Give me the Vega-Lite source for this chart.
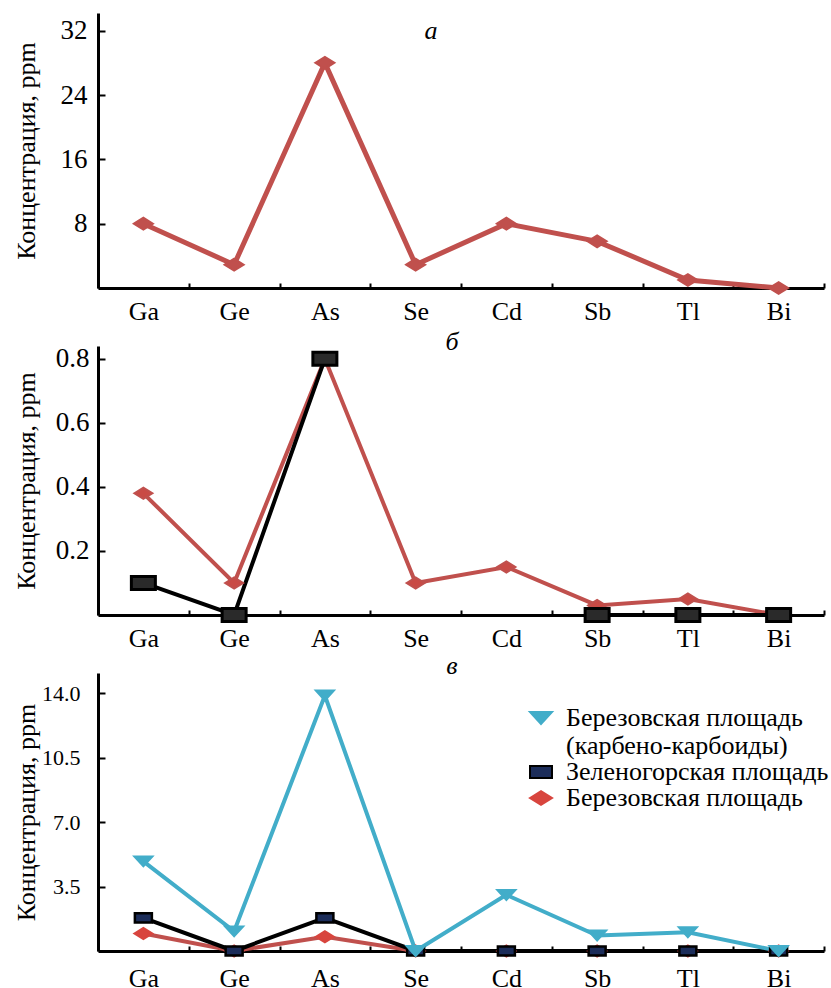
{
  "$schema": "https://vega.github.io/schema/vega-lite/v6.json",
  "padding": {"left": 12, "top": 13, "right": 2, "bottom": 0},
  "background": "white",
  "config": {
    "view": {"stroke": null},
    "font": "Liberation Serif",
    "title": {"font": "Liberation Serif", "fontSize": 26, "fontStyle": "italic", "fontWeight": "normal", "anchor": "middle", "baseline": "alphabetic", "offset": 0, "frame": "group", "color": "black"},
    "axis": {"labelFont": "Liberation Serif", "titleFont": "Liberation Serif", "labelColor": "black", "titleColor": "black", "domainColor": "black", "tickColor": "black", "grid": false, "domainWidth": 3, "tickWidth": 2},
    "axisX": {"labelAngle": 0, "labelFontSize": 26, "labelPadding": 15.5, "tickSize": -5, "tickBand": "extent", "labelBaseline": "top"},
    "axisY": {"labelFontSize": 27, "tickSize": -7, "labelPadding": 18, "titleFontSize": 26, "titleFontWeight": "normal", "titleX": -59, "titleBaseline": "bottom", "titleAngle": -90},
    "legend": {"labelFont": "Liberation Serif", "labelFontSize": 26, "labelColor": "black", "labelLimit": 0, "padding": 0, "rowPadding": 0, "symbolSize": 484, "symbolStrokeWidth": 2, "labelOffset": 12, "symbolOffset": 0}
  },
  "datasets": {
    "d": [
      {"p": "a", "s": "Березовская площадь", "el": "Ga", "v": 8},
      {"p": "a", "s": "Березовская площадь", "el": "Ge", "v": 2.9},
      {"p": "a", "s": "Березовская площадь", "el": "As", "v": 28},
      {"p": "a", "s": "Березовская площадь", "el": "Se", "v": 2.9},
      {"p": "a", "s": "Березовская площадь", "el": "Cd", "v": 8},
      {"p": "a", "s": "Березовская площадь", "el": "Sb", "v": 5.8},
      {"p": "a", "s": "Березовская площадь", "el": "Tl", "v": 1},
      {"p": "a", "s": "Березовская площадь", "el": "Bi", "v": 0},
      {"p": "b", "s": "Березовская площадь", "el": "Ga", "v": 0.38},
      {"p": "b", "s": "Березовская площадь", "el": "Ge", "v": 0.1},
      {"p": "b", "s": "Березовская площадь", "el": "As", "v": 0.8},
      {"p": "b", "s": "Березовская площадь", "el": "Se", "v": 0.1},
      {"p": "b", "s": "Березовская площадь", "el": "Cd", "v": 0.15},
      {"p": "b", "s": "Березовская площадь", "el": "Sb", "v": 0.03},
      {"p": "b", "s": "Березовская площадь", "el": "Tl", "v": 0.05},
      {"p": "b", "s": "Березовская площадь", "el": "Bi", "v": 0},
      {"p": "b", "s": "Зеленогорская площадь", "el": "Ga", "v": 0.1},
      {"p": "b", "s": "Зеленогорская площадь", "el": "Ge", "v": 0},
      {"p": "b", "s": "Зеленогорская площадь", "el": "As", "v": 0.8},
      {"p": "b", "s": "Зеленогорская площадь", "el": "Se", "v": null},
      {"p": "b", "s": "Зеленогорская площадь", "el": "Cd", "v": null},
      {"p": "b", "s": "Зеленогорская площадь", "el": "Sb", "v": 0},
      {"p": "b", "s": "Зеленогорская площадь", "el": "Tl", "v": 0},
      {"p": "b", "s": "Зеленогорская площадь", "el": "Bi", "v": 0},
      {"p": "c", "s": "Березовская площадь", "el": "Ga", "v": 0.95},
      {"p": "c", "s": "Березовская площадь", "el": "Ge", "v": 0},
      {"p": "c", "s": "Березовская площадь", "el": "As", "v": 0.77},
      {"p": "c", "s": "Березовская площадь", "el": "Se", "v": 0},
      {"p": "c", "s": "Березовская площадь", "el": "Cd", "v": 0},
      {"p": "c", "s": "Березовская площадь", "el": "Sb", "v": 0},
      {"p": "c", "s": "Березовская площадь", "el": "Tl", "v": 0},
      {"p": "c", "s": "Березовская площадь", "el": "Bi", "v": 0},
      {"p": "c", "s": "Зеленогорская площадь", "el": "Ga", "v": 1.8},
      {"p": "c", "s": "Зеленогорская площадь", "el": "Ge", "v": 0},
      {"p": "c", "s": "Зеленогорская площадь", "el": "As", "v": 1.8},
      {"p": "c", "s": "Зеленогорская площадь", "el": "Se", "v": 0},
      {"p": "c", "s": "Зеленогорская площадь", "el": "Cd", "v": 0},
      {"p": "c", "s": "Зеленогорская площадь", "el": "Sb", "v": 0},
      {"p": "c", "s": "Зеленогорская площадь", "el": "Tl", "v": 0},
      {"p": "c", "s": "Зеленогорская площадь", "el": "Bi", "v": 0},
      {"p": "c", "s": "Березовская площадь (карбено-карбоиды)", "el": "Ga", "v": 4.87},
      {"p": "c", "s": "Березовская площадь (карбено-карбоиды)", "el": "Ge", "v": 1.07},
      {"p": "c", "s": "Березовская площадь (карбено-карбоиды)", "el": "As", "v": 13.88},
      {"p": "c", "s": "Березовская площадь (карбено-карбоиды)", "el": "Se", "v": 0},
      {"p": "c", "s": "Березовская площадь (карбено-карбоиды)", "el": "Cd", "v": 3.05},
      {"p": "c", "s": "Березовская площадь (карбено-карбоиды)", "el": "Sb", "v": 0.84},
      {"p": "c", "s": "Березовская площадь (карбено-карбоиды)", "el": "Tl", "v": 1.02},
      {"p": "c", "s": "Березовская площадь (карбено-карбоиды)", "el": "Bi", "v": 0}
    ]
  },
  "spacing": 58,
  "bounds": "flush",
  "resolve": {"scale": {"y": "independent", "fill": "independent", "stroke": "independent", "shape": "independent"}, "legend": {"fill": "independent", "stroke": "independent", "shape": "independent"}},
  "vconcat": [
    {
      "width": 726,
      "height": 275,
      "title": {"text": "а", "dx": -30, "dy": 35},
      "data": {"name": "d"},
      "transform": [{"filter": "datum.p == 'a'"}],
      "encoding": {
        "x": {"field": "el", "type": "nominal", "sort": ["Ga", "Ge", "As", "Se", "Cd", "Sb", "Tl", "Bi"], "scale": {"type": "band", "padding": 0}, "axis": {"title": null}},
        "y": {"field": "v", "type": "quantitative", "scale": {"domain": [0, 34.2], "nice": false}, "axis": {"values": [8, 16, 24, 32], "labelPadding": 18, "title": "Концентрация, ppm"}}
      },
      "layer": [
        {"mark": {"type": "line", "color": "#c0504d", "strokeWidth": 5}},
        {"mark": {"type": "point", "shape": "M-1,0L0,-0.62L1,0L0,0.62Z", "filled": true, "fill": "#c0504d", "stroke": "#c0504d", "strokeWidth": 2, "size": 361, "opacity": 1}}
      ]
    },
    {
      "width": 726,
      "height": 269,
      "title": {"text": "б", "dx": -9, "dy": 14},
      "data": {"name": "d"},
      "transform": [{"filter": "datum.p == 'b'"}],
      "encoding": {
        "x": {"field": "el", "type": "nominal", "sort": ["Ga", "Ge", "As", "Se", "Cd", "Sb", "Tl", "Bi"], "scale": {"type": "band", "padding": 0}, "axis": {"title": null}},
        "y": {"field": "v", "type": "quantitative", "scale": {"domain": [0, 0.84], "nice": false}, "axis": {"values": [0.2, 0.4, 0.6, 0.8], "format": ".1f", "labelPadding": 16, "title": "Концентрация, ppm"}}
      },
      "layer": [
        {"transform": [{"filter": "datum.s == 'Березовская площадь'"}], "mark": {"type": "line", "color": "#c0504d", "strokeWidth": 4}},
        {"transform": [{"filter": "datum.s == 'Зеленогорская площадь'"}], "mark": {"type": "line", "color": "#000000", "strokeWidth": 4}},
        {"transform": [{"filter": "datum.s == 'Березовская площадь'"}], "mark": {"type": "point", "shape": "M-1,0L0,-0.62L1,0L0,0.62Z", "filled": true, "fill": "#c94a45", "stroke": "#c0504d", "strokeWidth": 2, "size": 324, "opacity": 1}},
        {"transform": [{"filter": "datum.s == 'Зеленогорская площадь'"}], "mark": {"type": "point", "shape": "M-1,-0.54H1V0.54H-1Z", "filled": true, "fill": "#2a2a2a", "stroke": "#000000", "strokeWidth": 3, "size": 576, "opacity": 1}}
      ]
    },
    {
      "width": 726,
      "height": 278,
      "title": {"text": "в", "dx": -9, "dy": 10},
      "data": {"name": "d"},
      "transform": [{"filter": "datum.p == 'c'"}],
      "encoding": {
        "x": {"field": "el", "type": "nominal", "sort": ["Ga", "Ge", "As", "Se", "Cd", "Sb", "Tl", "Bi"], "scale": {"type": "band", "padding": 0}, "axis": {"labelPadding": 19, "title": null}},
        "y": {"field": "v", "type": "quantitative", "scale": {"domain": [0, 15.1], "nice": false}, "axis": {"values": [3.5, 7, 10.5, 14], "format": ".1f", "labelPadding": 25, "labelFontSize": 22, "title": "Концентрация, ppm"}}
      },
      "layer": [
        {"transform": [{"filter": "datum.s == 'Березовская площадь'"}], "mark": {"type": "line", "color": "#c0504d", "strokeWidth": 4}},
        {"transform": [{"filter": "datum.s == 'Зеленогорская площадь'"}], "mark": {"type": "line", "color": "#000000", "strokeWidth": 4}},
        {"transform": [{"filter": "datum.s == 'Березовская площадь (карбено-карбоиды)'"}], "mark": {"type": "line", "color": "#42adc9", "strokeWidth": 4}},
        {
          "mark": {"type": "point", "filled": true, "size": 289, "strokeWidth": 2.5, "opacity": 1},
          "encoding": {
            "fill": {"field": "s", "type": "nominal", "scale": {"domain": ["Березовская площадь (карбено-карбоиды)", "Зеленогорская площадь", "Березовская площадь"], "range": ["#42adc9", "#1c2d5a", "#d8453e"]}, "legend": {"title": null, "orient": "none", "legendX": 430, "legendY": 32, "labelExpr": "indexof(datum.label, ' (') > 0 ? [substring(datum.label, 0, indexof(datum.label, ' (')), '\u00a0' + substring(datum.label, indexof(datum.label, ' (') + 1)] : datum.label"}},
            "stroke": {"field": "s", "type": "nominal", "scale": {"domain": ["Березовская площадь (карбено-карбоиды)", "Зеленогорская площадь", "Березовская площадь"], "range": ["#42adc9", "#000000", "#d8453e"]}, "legend": {"title": null, "orient": "none", "legendX": 430, "legendY": 32, "labelExpr": "indexof(datum.label, ' (') > 0 ? [substring(datum.label, 0, indexof(datum.label, ' (')), '\u00a0' + substring(datum.label, indexof(datum.label, ' (') + 1)] : datum.label"}},
            "shape": {"field": "s", "type": "nominal", "scale": {"domain": ["Березовская площадь (карбено-карбоиды)", "Зеленогорская площадь", "Березовская площадь"], "range": ["M-1,-0.55H1L0,0.55Z", "M-1,-0.54H1V0.54H-1Z", "M-1,0L0,-0.62L1,0L0,0.62Z"]}, "legend": {"title": null, "orient": "none", "legendX": 430, "legendY": 32, "labelExpr": "indexof(datum.label, ' (') > 0 ? [substring(datum.label, 0, indexof(datum.label, ' (')), '\u00a0' + substring(datum.label, indexof(datum.label, ' (') + 1)] : datum.label"}}
          }
        }
      ]
    }
  ]
}
